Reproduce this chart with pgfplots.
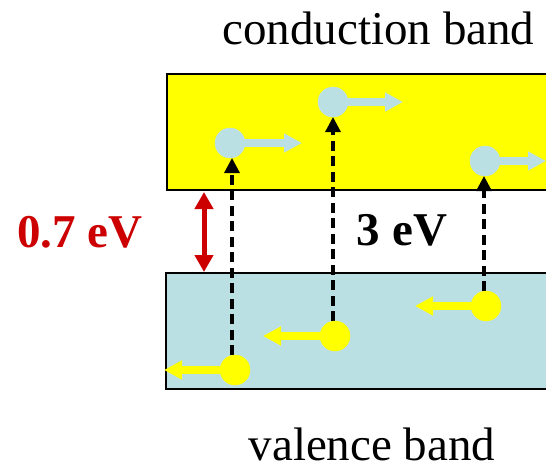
\documentclass[border=0pt]{standalone}
\usepackage{fontspec}
\setmainfont{Liberation Serif}
\usepackage{pgfplots}
\pgfplotsset{compat=1.18}
\usetikzlibrary{arrows.meta}
\definecolor{cband}{RGB}{255,255,0}
\definecolor{vband}{RGB}{187,224,227}
\definecolor{gapred}{RGB}{204,0,0}
\begin{document}
\begin{tikzpicture}
\begin{axis}[width=546pt,height=467pt,scale only axis,hide axis,
  xmin=0,xmax=546,ymin=0,ymax=467]
% bands
\addplot[draw=none,fill=cband] coordinates {(546,393)(167,393)(167,277)(546,277)} -- cycle;
\addplot[draw=black,line width=2pt] coordinates {(546,393)(167,393)(167,277)(546,277)};
\addplot[draw=none,fill=vband] coordinates {(546,194)(166,194)(166,78)(546,78)} -- cycle;
\addplot[draw=black,line width=2pt] coordinates {(546,194)(166,194)(166,78)(546,78)};
% gap arrow
\addplot[gapred,line width=5pt,{Triangle[length=17pt,width=18pt]}-{Triangle[length=17pt,width=18pt]}] coordinates {(204,275)(204,195)};
% excitation dashed arrows
\addplot[black,line width=3.2pt,dash pattern=on 10pt off 5.5pt,-{Triangle[length=15pt,width=15pt]}] coordinates {(232,112)(232,309)};
\addplot[black,line width=3.2pt,dash pattern=on 10pt off 5.5pt,-{Triangle[length=15pt,width=15pt]}] coordinates {(333,146)(333,350)};
\addplot[black,line width=3.2pt,dash pattern=on 10pt off 5.5pt,-{Triangle[length=15pt,width=15pt]}] coordinates {(484,176)(484,291)};
% electron arrows
\addplot[vband,line width=8pt,-{Triangle[length=18pt,width=18pt]}] coordinates {(230,324)(302,324)};
\addplot[vband,line width=8pt,-{Triangle[length=18pt,width=18pt]}] coordinates {(333,365)(403,365)};
\addplot[vband,line width=8pt,-{Triangle[length=18pt,width=18pt]}] coordinates {(485,306)(546,306)};
% hole arrows
\addplot[cband,line width=8pt,-{Triangle[length=18pt,width=18pt]}] coordinates {(235,97)(164,97)};
\addplot[cband,line width=8pt,-{Triangle[length=18pt,width=18pt]}] coordinates {(335,131)(263,131)};
\addplot[cband,line width=8pt,-{Triangle[length=18pt,width=18pt]}] coordinates {(486,161)(415,161)};
% electrons
\addplot[only marks,mark=*,mark size=15pt,color=vband] coordinates {(230,324)(333,365)(485,306)};
% holes
\addplot[only marks,mark=*,mark size=15pt,color=cband] coordinates {(235,97)(335,131)(486,161)};
% labels
\node[font=\fontsize{47}{56}\selectfont,anchor=base] at (axis cs:378.5,422) {conduction band};
\node[font=\fontsize{47}{56}\selectfont,anchor=base,inner sep=0pt] at (axis cs:372,7) {valence band};
\node[font=\fontsize{47}{56}\selectfont\bfseries,text=gapred,anchor=base] at (axis cs:80,220) {0.7 eV};
\node[font=\fontsize{47}{56}\selectfont\bfseries,anchor=base] at (axis cs:402,222) {3 eV};
\end{axis}
\pgfresetboundingbox
\path[use as bounding box] (current axis.south west) rectangle (current axis.north east);
\end{tikzpicture}
\end{document}
